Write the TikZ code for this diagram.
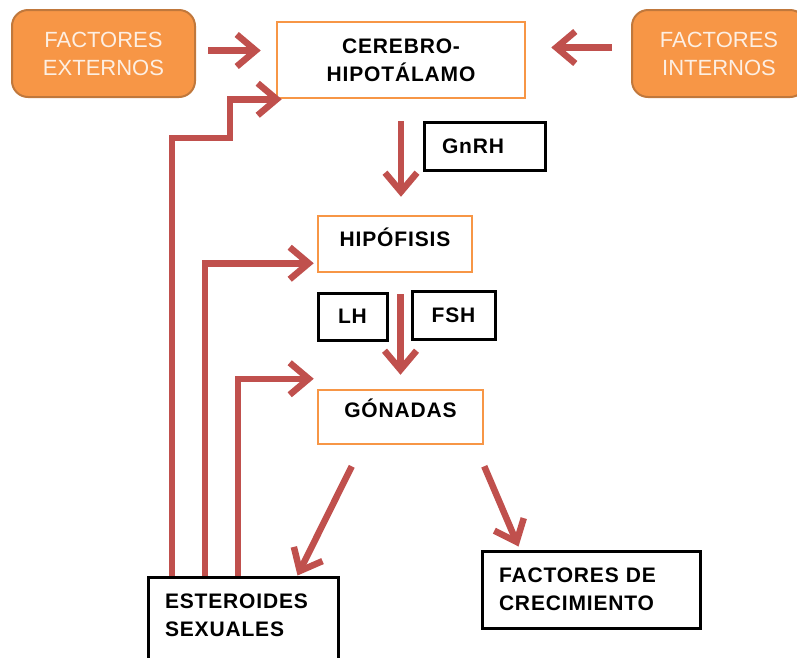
\documentclass[tikz,border=0pt]{standalone}
\usepackage{fontspec}
\setmainfont{Liberation Sans}
\usetikzlibrary{arrows.meta}

\definecolor{boxorange}{HTML}{F79646}
\definecolor{edgeorange}{HTML}{C0783C}
\definecolor{arrowred}{HTML}{C0504D}
\definecolor{paletext}{HTML}{FDEFE3}

\begin{document}
\begin{tikzpicture}[x=1pt,y=-1pt,
    factor node/.style={rectangle,rounded corners=16pt,draw=edgeorange,line width=2pt,
      fill=boxorange,text=paletext,align=center,font=\fontsize{22}{28}\selectfont},
    main node/.style={rectangle,draw=boxorange,line width=2.5pt,align=center,
      font=\fontsize{21}{28}\selectfont\bfseries\addfontfeatures{LetterSpace=4}},
    hormone node/.style={rectangle,draw=black,line width=3pt,align=left,
      font=\fontsize{21}{28}\selectfont\bfseries\addfontfeatures{LetterSpace=4}},
    red arrow/.style={draw=arrowred,line width=6.5pt,-{Straight Barb[length=19pt,width=32pt]}}]

  \useasboundingbox (0,0) rectangle (797,657);
  \clip (0,0) rectangle (797,657);

  \node[factor node,minimum width=183pt,minimum height=87pt] (ext) at (103.5,53.5) {FACTORES\\EXTERNOS};
  \node[factor node,minimum width=174pt,minimum height=87pt] (int) at (719,53.5) {FACTORES\\INTERNOS};
  \node[main node,minimum width=248pt,minimum height=76pt] (cer) at (401,60) {CEREBRO-\\HIPOTÁLAMO};
  \node[hormone node,minimum width=121pt,minimum height=48pt,inner xsep=18pt,text width=85pt] (gnrh) at (484.5,146) {GnRH};
  \node[main node,minimum width=154pt,minimum height=56pt,text depth=14pt] (hip) at (395,244) {HIPÓFISIS};
  \node[hormone node,minimum width=69pt,minimum height=47pt,align=center] (lh) at (352.5,316.5) {LH};
  \node[hormone node,minimum width=83pt,minimum height=48pt,align=center] (fsh) at (453.5,315) {FSH};
  \node[main node,minimum width=165pt,minimum height=54pt,text depth=17pt] (gon) at (400.5,417) {GÓNADAS};
  \node[hormone node,minimum width=190pt,minimum height=90pt,inner xsep=17pt,text width=156pt,text depth=42pt] (est) at (243,622) {ESTEROIDES\\SEXUALES};
  \node[hormone node,minimum width=218pt,minimum height=77pt,inner xsep=17pt,text width=184pt] (fac) at (591,589.5) {FACTORES DE\\CRECIMIENTO};

  % entradas al cerebro
  \draw[red arrow,shorten <=12pt,shorten >=15pt] ([yshift=3pt]ext.east) -- ([yshift=3pt]ext.east -| cer.west);
  \draw[red arrow,shorten <=19pt,shorten >=25pt] ([yshift=6pt]int.west) -- ([yshift=6pt]int.west -| cer.east);

  % eje principal
  \draw[red arrow,shorten <=22pt,shorten >=18pt] (cer.south) -- (cer.south |- hip.north);
  \draw[red arrow,shorten <=21pt,shorten >=14pt] (gon.north |- hip.south) -- (gon.north);
  \draw[red arrow] ([xshift=35pt,yshift=-21pt]gon.south west) -- ([xshift=-42pt]est.north east);
  \draw[red arrow] ([yshift=-21pt]gon.south east) -- ([xshift=38pt,yshift=3pt]fac.north west);

  % retroalimentacion
  \coordinate (fb1) at (172,138);
  \coordinate (fb1b) at (230,138);
  \coordinate (fb2) at (205,262);
  \coordinate (fb3) at (238,382);
  \draw[red arrow] (est.north -| fb1) -- (fb1) -- (fb1b) |- ([xshift=6pt]cer.south west);
  \draw[red arrow] (est.north -| fb2) |- ([xshift=-3pt,yshift=10pt]hip.south west);
  \draw[red arrow] (est.north -| fb3) |- ([xshift=-3pt,yshift=10pt]gon.north west);

\end{tikzpicture}
\end{document}
